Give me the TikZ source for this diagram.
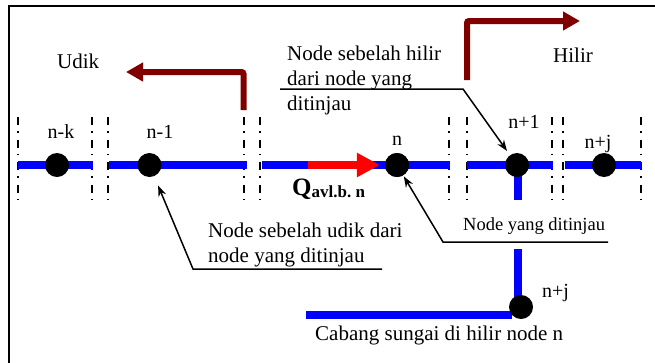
\documentclass[tikz,border=0pt]{standalone}
\usepackage{fontspec}
\setmainfont{Liberation Serif}
\usetikzlibrary{arrows.meta}
\definecolor{riverblue}{RGB}{0,0,255}
\definecolor{dirred}{RGB}{128,0,0}
\definecolor{flowred}{RGB}{255,0,0}
\begin{document}
\begin{tikzpicture}[x=1pt,y=-1pt,
  river/.style={draw=riverblue, line width=7.5pt},
  sepline/.style={draw=black, line width=1.5pt, dash pattern=on 8pt off 6pt on 1.5pt off 7pt},
  dot/.style={circle, fill=black, minimum size=24pt, inner sep=0pt},
  lbl/.style={font=\fontsize{20}{20}\selectfont, inner sep=0pt, anchor=base},
  txt/.style={font=\fontsize{21}{21}\selectfont, inner sep=0pt, anchor=base west},
  dirarrow/.style={draw=dirred, line width=6pt, rounded corners=2pt, -{Triangle[length=17pt,width=18pt]}},
  lead/.style={draw=black, line width=1.5pt, -{Stealth[length=11pt,width=8pt]}}
]
\useasboundingbox (0,0) rectangle (655,362);
\fill[white] (0,0) rectangle (655,362);
% frame
\draw[line width=2.5pt] (9,365) -- (9,6) -- (660,6);

% separators
\foreach \x in {18,92,108,244,260,449,467,552,563,641}
  \draw[sepline] (\x,117) -- (\x,201);

% river segments
\draw[river] (18,165) -- (93,165);
\draw[river] (109,165) -- (247,165);
\draw[river] (262,165) -- (450,165);
\draw[river] (467,165) -- (553,165);
\draw[river] (565,165) -- (641,165);
% branch
\draw[river] (518,165) -- (518,200);
\draw[river] (518,249) -- (518,302);
\draw[river] (306,315) -- (512,315);

% nodes
\node[dot] (nk)  at (57,165) {};
\node[dot] (nm1) at (149.5,165) {};
\node[dot] (n)   at (397,165) {};
\node[dot] (np1) at (517,165) {};
\node[dot] (npj) at (604,165) {};
\node[dot] (nbr) at (521,307) {};

% flow arrow
\coordinate (q0) at (308,165);
\draw[draw=flowred, line width=7.5pt, -{Triangle[length=23pt,width=23pt]}, shorten >=5pt] (q0) -- (n);
\node[dot] at (397,165) {};

% node labels
\node[lbl] (lnk)  at (61,138) {n-k};
\node[lbl] (lnm1) at (160,138) {n-1};
\node[lbl] (ln)   at (397,145) {n};
\node[lbl] (lnp1) at (524,128) {n+1};
\node[lbl] (lnpj) at (598,148) {n+j};
\node[lbl,anchor=base west] (lnbr) at (542,297) {n+j};

% Q label
\node[anchor=base west, inner sep=0pt] (q) at (292,195)
  {\fontsize{25}{25}\selectfont\bfseries Q\raisebox{-2pt}{\fontsize{17}{17}\selectfont avl.b.\ n}};

% direction arrows
\node[txt] (udik) at (57,68) {Udik};
\node[txt] (hilir) at (553,62) {Hilir};
\draw[dirarrow] (243.5,110) -- (243.5,72) -- (126,72);
\draw[dirarrow] (467,80) -- (467,21) -- (580,21);

% annotations
\node[txt] (h1) at (287,60) {Node sebelah hilir};
\node[txt] (h2) at (287,85) {dari node yang};
\node[txt] (h3) at (287,110) {ditinjau};
\coordinate (lh1) at (280,89);
\coordinate (lh2) at (463,89);
\draw[lead, shorten >=5pt] (lh1) -- (lh2) -- (np1);

\node[txt] (u1) at (208,237) {Node sebelah udik dari};
\node[txt] (u2) at (208,262) {node yang ditinjau};
\coordinate (lu1) at (382,269);
\coordinate (lu2) at (193,269);
\draw[lead, shorten >=10pt] (lu1) -- (lu2) -- (nm1);

\node[txt, font=\fontsize{18.5}{18.5}\selectfont] (t1) at (463,230) {Node yang ditinjau};
\coordinate (lt1) at (608,242);
\coordinate (lt2) at (443,242);
\draw[lead, shorten >=1pt] (lt1) -- (lt2) -- (n);

\node[txt] (cab) at (315,340) {Cabang sungai di hilir node n};
\end{tikzpicture}
\end{document}
